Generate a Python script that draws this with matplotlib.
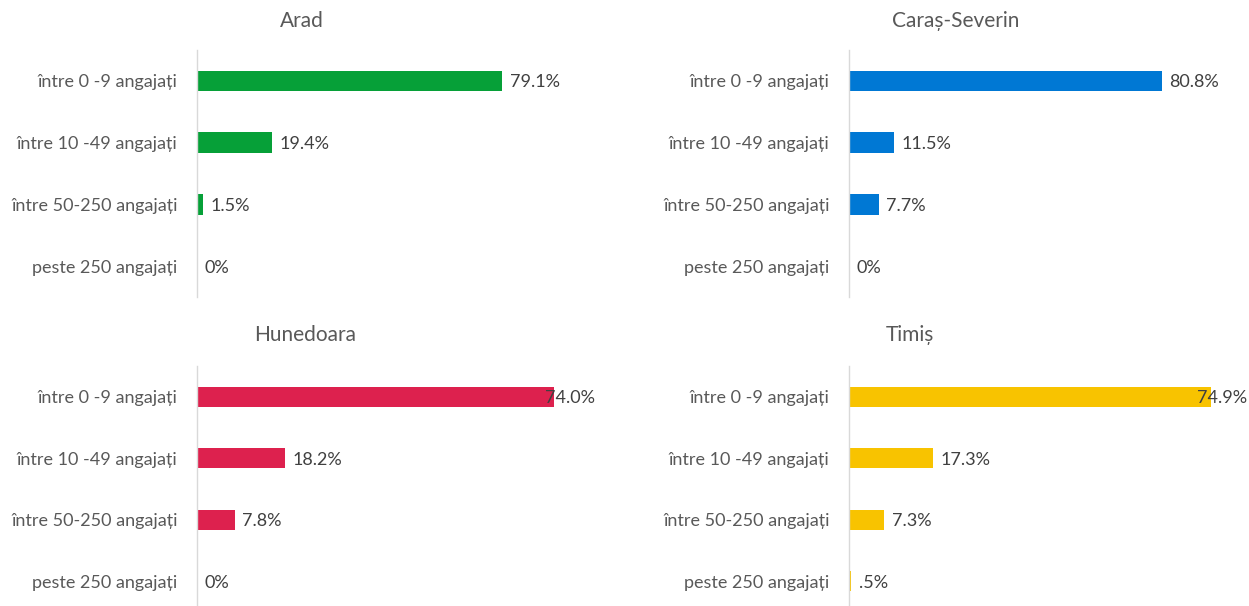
import matplotlib
matplotlib.use("Agg")
import matplotlib.pyplot as plt

plt.rcParams['font.family'] = ['Lato', 'DejaVu Sans']

categories = ["între 0 -9 angajați", "între 10 -49 angajați",
              "între 50-250 angajați", "peste 250 angajați"]

arad = [79.1, 19.4, 1.5, 0.0]
caras_severin = [80.8, 11.5, 7.7, 0.0]
hunedoara = [74.0, 18.2, 7.8, 0.0]
timis = [74.9, 17.3, 7.3, 0.5]

titles = ["Arad", "Caraș-Severin", "Hunedoara", "Timiș"]
series = [arad, caras_severin, hunedoara, timis]
colors = ["#06A038", "#0078D4", "#DD214E", "#F8C300"]
xmax = [100, 100, 80, 80]

W, H = 1249, 606
fig = plt.figure(figsize=(W / 100, H / 100), dpi=100)

# axes rectangles in pixels: left, top, width, bottom
rects = [(197, 50, 386, 297), (849, 50, 387, 297),
         (197, 366, 386, 612), (849, 366, 387, 612)]
panel_right = [595, 1247, 595, 1247]
title_pos = [(302, 21), (956, 21), (305, 335), (910, 335)]

FS = 13


def fmt(v):
    if v == 0:
        return "0%"
    s = f"{v:.1f}%"
    if s.startswith("0."):
        s = s[1:]
    return s


texts = []
for i, (vals, col) in enumerate(zip(series, colors)):
    l, t, w, b = rects[i]
    ax = fig.add_axes([l / W, 1 - b / H, w / W, (b - t) / H])
    ypos = list(range(len(categories)))
    ax.barh(ypos, vals, height=0.33, color=col)
    ax.set_xlim(0, xmax[i])
    ax.set_ylim(len(categories) - 0.5, -0.5)
    ax.set_yticks(ypos)
    ax.set_yticklabels(categories, fontsize=FS, color="#595959")
    ax.tick_params(axis='y', length=0, pad=14)
    ax.set_xticks([])
    for s in ["top", "right", "bottom"]:
        ax.spines[s].set_visible(False)
    ax.spines["left"].set_color("#D9D9D9")
    ax.spines["left"].set_linewidth(1)
    for y, v in zip(ypos, vals):
        tx = ax.annotate(fmt(v), xy=(v, y), xytext=(5.5, 0), textcoords="offset points",
                         ha="left", va="center_baseline", fontsize=FS, color="#404040")
        texts.append((tx, panel_right[i]))
    fig.text(title_pos[i][0] / W, 1 - title_pos[i][1] / H, titles[i], ha="center",
             va="center", fontsize=15, color="#595959")

fig.canvas.draw()
renderer = fig.canvas.get_renderer()
for tx, limit in texts:
    bb = tx.get_window_extent(renderer)
    if bb.x1 > limit:
        shift_pts = (bb.x1 - limit) * 72.0 / fig.dpi
        tx.xyann = (tx.xyann[0] - shift_pts, tx.xyann[1])

fig.savefig("out.png", dpi=100)
